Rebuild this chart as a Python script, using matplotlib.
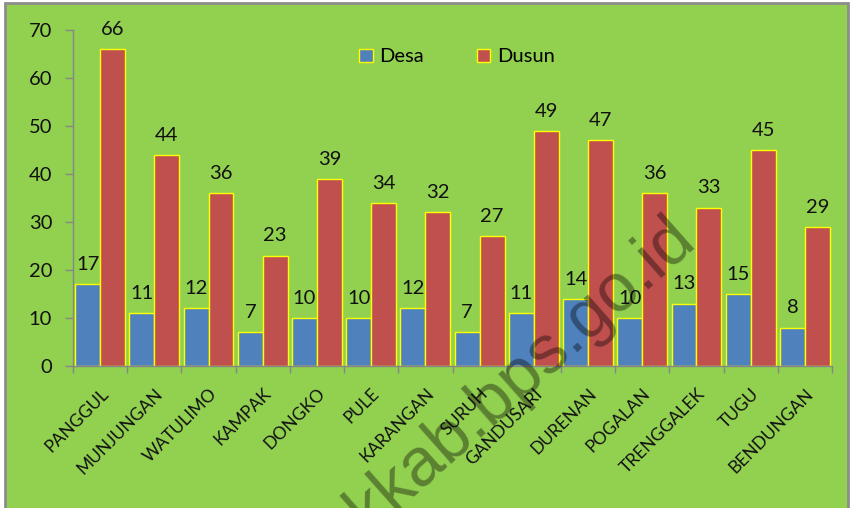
import matplotlib
matplotlib.use('Agg')
import matplotlib.pyplot as plt
from matplotlib.patches import Rectangle
import numpy as np

kecamatan = ['PANGGUL', 'MUNJUNGAN', 'WATULIMO', 'KAMPAK', 'DONGKO', 'PULE',
             'KARANGAN', 'SURUH', 'GANDUSARI', 'DURENAN', 'POGALAN',
             'TRENGGALEK', 'TUGU', 'BENDUNGAN']
desa = [17, 11, 12, 7, 10, 10, 12, 7, 11, 14, 10, 13, 15, 8]
dusun = [66, 44, 36, 23, 39, 34, 32, 27, 49, 47, 36, 33, 45, 29]

plt.rcParams['font.family'] = ['Lato', 'DejaVu Sans']

fig = plt.figure(figsize=(8.51, 5.08), dpi=100, facecolor='white')
# green chart area with gray frame
fig.patches.append(Rectangle((5/851, -0.05), 843/851, 1.05 - 3/508,
                             transform=fig.transFigure, facecolor='#92D050',
                             edgecolor='#8c8c8c', linewidth=2, zorder=-5))

ax = fig.add_axes([73/851, 1 - 366/508, (832 - 73)/851, (366 - 30)/508])
ax.set_facecolor('none')

x = np.arange(len(kecamatan))
w = 0.46
b1 = ax.bar(x - w/2, desa, w, color='#4F81BD', edgecolor='#FFFF00', linewidth=1, label='Desa')
b2 = ax.bar(x + w/2, dusun, w, color='#C0504D', edgecolor='#FFFF00', linewidth=1, label='Dusun')

for bars, vals in ((b1, desa), (b2, dusun)):
    for r, v in zip(bars, vals):
        ax.annotate(str(v), (r.get_x() + r.get_width()/2, v), xytext=(0, 8),
                    textcoords='offset points', ha='center', va='bottom',
                    fontsize=14.5, color='#111111')

ax.set_xlim(-0.5, len(kecamatan) - 0.5)
ax.set_ylim(0, 70)
ax.set_yticks(range(0, 71, 10))
ax.tick_params(axis='y', length=6, width=1, color='#868686', pad=9,
               labelsize=14.5, labelcolor='#111111')

ax.set_xticks(x)
ax.set_xticklabels(kecamatan, rotation=45, ha='right', va='top',
                   rotation_mode='anchor', fontsize=12.5, color='#111111')
ax.set_xticks(np.arange(-0.5, len(kecamatan)), minor=True)
ax.tick_params(axis='x', which='major', length=0, pad=14)
ax.tick_params(axis='x', which='minor', length=5, width=1, color='#868686')

for s in ['top', 'right']:
    ax.spines[s].set_visible(False)
for s in ['left', 'bottom']:
    ax.spines[s].set_color('#868686')
    ax.spines[s].set_linewidth(1)

fig.legend(handles=[b1, b2], loc='center', bbox_to_anchor=(457/851, 1 - 57/508),
           ncol=2, frameon=False, fontsize=14.5, handlelength=0.65,
           handleheight=0.65, handletextpad=0.35, columnspacing=2.6)

# watermark
fig.text(697/851, 1 - 242/508, 'kkab.bps.go.id', rotation=41.5,
         rotation_mode='anchor', ha='right', va='baseline', fontsize=49,
         family='Liberation Sans', color='black', alpha=0.38, zorder=10)

fig.savefig('out.png', dpi=100, facecolor=fig.get_facecolor())
